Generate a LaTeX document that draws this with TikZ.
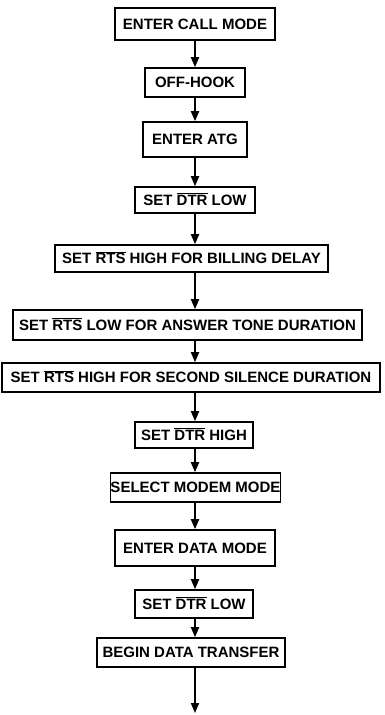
\documentclass[tikz,border=0pt]{standalone}
\usepackage{fontspec}
\setmainfont{Liberation Sans}
\usetikzlibrary{arrows.meta}
\newcommand{\obar}[1]{$\overline{\mbox{#1}}$}
\begin{document}
\begin{tikzpicture}[x=1pt,y=-1pt,
  stepbox/.style={draw,line width=1.6pt,inner sep=0pt,
    font=\fontsize{15}{17}\bfseries\selectfont,
    text height=10.8pt,text depth=0pt},
  flow/.style={line width=1.8pt,-{Triangle[width=8pt,length=10pt]}}]
\useasboundingbox (0,0) rectangle (385,715);
\node[stepbox,minimum width=160pt,minimum height=32pt] (b1) at (195,24) {ENTER CALL MODE};
\node[stepbox,minimum width=100pt,minimum height=29pt] (b2) at (195,82.5) {OFF-HOOK};
\node[stepbox,minimum width=104pt,minimum height=35pt] (b3) at (195,139.5) {ENTER ATG};
\node[stepbox,minimum width=120pt,minimum height=26pt] (b4) at (195,200) {SET \obar{DTR} LOW};
\node[stepbox,minimum width=273pt,minimum height=27pt] (b5) at (191.5,258.5) {SET \obar{RTS} HIGH FOR BILLING DELAY};
\node[stepbox,minimum width=349pt,minimum height=30pt] (b6) at (187.5,325) {SET \obar{RTS} LOW FOR ANSWER TONE DURATION};
\node[stepbox,minimum width=378pt,minimum height=29pt] (b7) at (191,377.5) {SET \obar{RTS} HIGH FOR SECOND SILENCE DURATION};
\node[stepbox,minimum width=118pt,minimum height=26pt] (b8) at (194,435) {SET \obar{DTR} HIGH};
\node[stepbox,minimum width=135pt,minimum height=29pt] (b9) at (195.5,487.5) {SELECT MODEM MODE};
\node[stepbox,minimum width=160pt,minimum height=36pt] (b10) at (195,548) {ENTER DATA MODE};
\node[stepbox,minimum width=118pt,minimum height=28pt] (b11) at (194,604) {SET \obar{DTR} LOW};
\node[stepbox,minimum width=188pt,minimum height=29pt] (b12) at (191,652.5) {BEGIN DATA TRANSFER};
\coordinate (end) at (195,713);
\foreach \a/\b in {b1/b2,b2/b3,b3/b4,b4/b5,b5/b6,b6/b7,b7/b8,b8/b9,b9/b10,b10/b11,b11/b12}
  \draw[flow] (\a.south -| 195,0) -- (\b.north -| 195,0);
\draw[flow] (b12.south -| 195,0) -- (end);
\end{tikzpicture}
\end{document}
